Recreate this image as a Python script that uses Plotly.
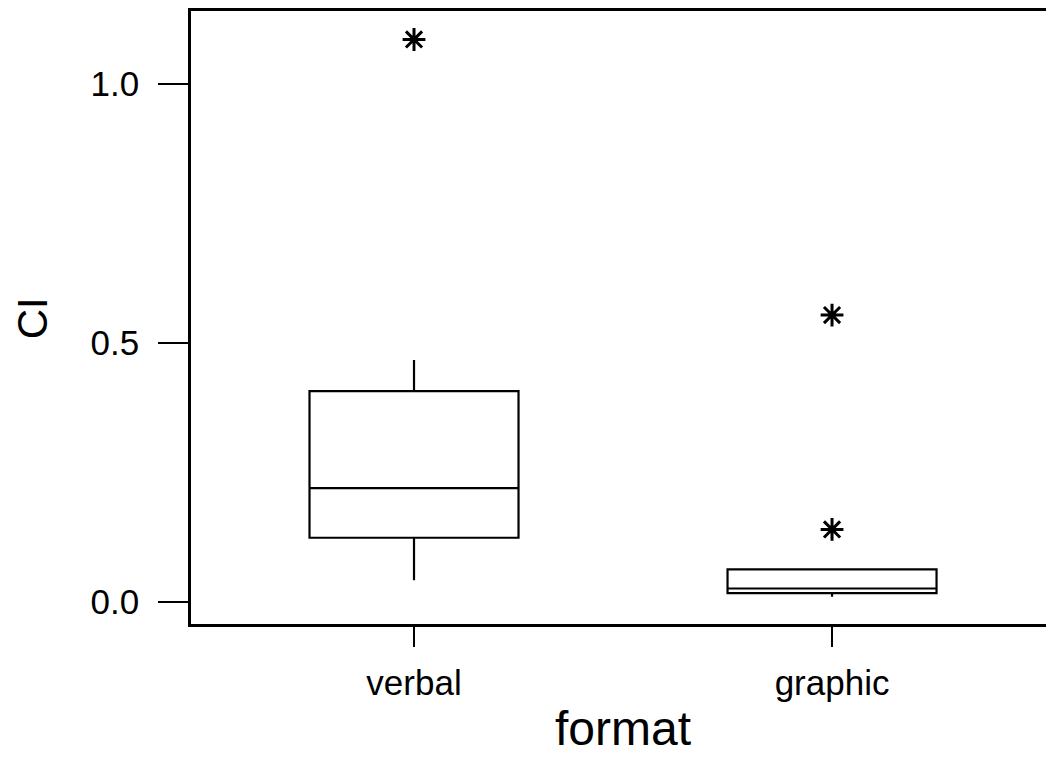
import plotly.graph_objects as go

categories = ["verbal", "graphic"]
cat_pos = [0, 1]
q1 = [0.124, 0.017]
median = [0.220, 0.026]
q3 = [0.407, 0.063]
lowerfence = [0.042, 0.010]
upperfence = [0.467, 0.063]
outlier_cat = [0, 1, 1]
outlier_val = [1.086, 0.554, 0.140]
y_tickvals = [0.0, 0.5, 1.0]
y_ticktext = ["0.0", "0.5", "1.0"]

FONT = "Liberation Sans, Arial, Helvetica, sans-serif"

fig = go.Figure()
fig.add_trace(go.Box(
    x=cat_pos, q1=q1, median=median, q3=q3,
    lowerfence=lowerfence, upperfence=upperfence,
    boxpoints=False, width=0.5, whiskerwidth=0,
    fillcolor="white", line=dict(color="black", width=2.2),
    showlegend=False, hoverinfo="skip",
))
fig.add_trace(go.Scatter(
    x=outlier_cat, y=outlier_val, mode="markers",
    marker=dict(symbol="asterisk-open", size=19, color="black",
                line=dict(color="black", width=3)),
    showlegend=False,
))

fig.update_layout(
    width=1046, height=760,
    margin=dict(l=183, r=0, t=3, b=144),
    paper_bgcolor="white", plot_bgcolor="white",
    font=dict(family=FONT, color="black", size=34),
    xaxis=dict(
        range=[-0.5335, 1.531], tickvals=cat_pos, ticktext=categories,
        showline=True, linecolor="black", linewidth=2.5, mirror=True,
        ticks="outside", ticklen=20, tickwidth=2, tickcolor="black",
        showgrid=False, zeroline=False, tickfont=dict(size=35),
        ticklabelstandoff=6,
    ),
    yaxis=dict(
        range=[-0.0425, 1.141], tickvals=y_tickvals, ticktext=y_ticktext,
        showline=True, linecolor="black", linewidth=2.5, mirror=False,
        ticks="outside", ticklen=30, tickwidth=2, tickcolor="black",
        showgrid=False, zeroline=False, tickfont=dict(size=35),
        ticklabelstandoff=12,
    ),
    annotations=[
        dict(text="format", xref="paper", yref="paper", x=0.5, y=-0.17,
             xanchor="center", yanchor="middle", showarrow=False,
             font=dict(size=48, family=FONT, color="black")),
        dict(text="CI", xref="paper", yref="paper", x=-0.184, y=0.499,
             xanchor="center", yanchor="middle", showarrow=False, textangle=-90,
             font=dict(size=42, family=FONT, color="black")),
    ],
)

fig.write_html("out.html")
